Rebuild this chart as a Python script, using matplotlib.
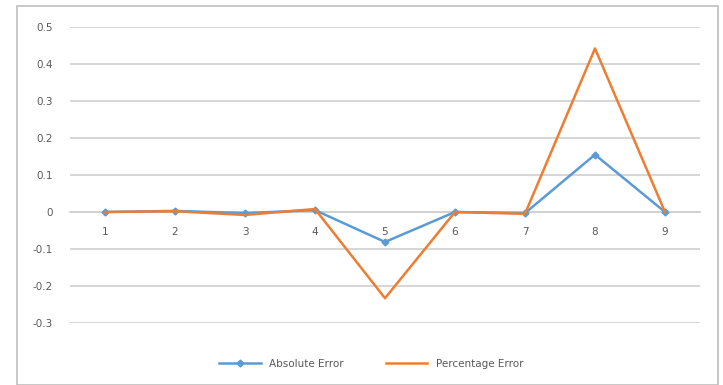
import matplotlib.pyplot as plt
from matplotlib.patches import Rectangle

categories = ['1', '2', '3', '4', '5', '6', '7', '8', '9']
absolute_error = [0.0, 0.003, -0.003, 0.005, -0.081, 0.0, -0.003, 0.155, 0.0]
percentage_error = [0.0, 0.002, -0.008, 0.008, -0.233, 0.0, -0.005, 0.442, 0.0]
y_ticks = [-0.3, -0.2, -0.1, 0, 0.1, 0.2, 0.3, 0.4, 0.5]

W, H = 723, 385
fig = plt.figure(figsize=(W / 100, H / 100), dpi=100)
fig.patches.append(Rectangle((17 / W, 0), 701 / W, 1 - 6 / H, transform=fig.transFigure,
                             fill=False, edgecolor='#bfbfbf', linewidth=1.2))

ax = fig.add_axes([70 / W, 1 - 323 / H, 630 / W, 296 / H])
x = list(range(len(categories)))
ax.plot(x, absolute_error, color='#5B9BD5', linewidth=1.8, marker='D', markersize=3.5,
        label='Absolute Error', zorder=3)
ax.plot(x, percentage_error, color='#ED7D31', linewidth=1.8, label='Percentage Error', zorder=3)

ax.set_xlim(-0.5, len(categories) - 0.5)
ax.set_ylim(-0.3, 0.5)
ax.set_yticks(y_ticks)
ax.set_yticklabels(['-0.3', '-0.2', '-0.1', '0', '0.1', '0.2', '0.3', '0.4', '0.5'])
ax.set_xticks(x)
ax.set_xticklabels(categories)
ax.grid(axis='y', color='#d0d0d0', linewidth=1.2)
ax.set_axisbelow(True)
for s in ax.spines.values():
    s.set_visible(False)
ax.spines['bottom'].set_visible(True)
ax.spines['bottom'].set_position(('data', 0))
ax.spines['bottom'].set_color('#d0d0d0')
ax.spines['bottom'].set_linewidth(1.2)
ax.tick_params(axis='both', length=0, colors='#595959', labelsize=7.5)
ax.tick_params(axis='x', pad=11)
ax.tick_params(axis='y', pad=12.5)

ax.legend(loc='upper center', bbox_to_anchor=(0.478, -0.09), ncol=2, frameon=False,
          fontsize=7.5, labelcolor='#595959', handlelength=4, columnspacing=4)

fig.savefig('out.png', dpi=100)
